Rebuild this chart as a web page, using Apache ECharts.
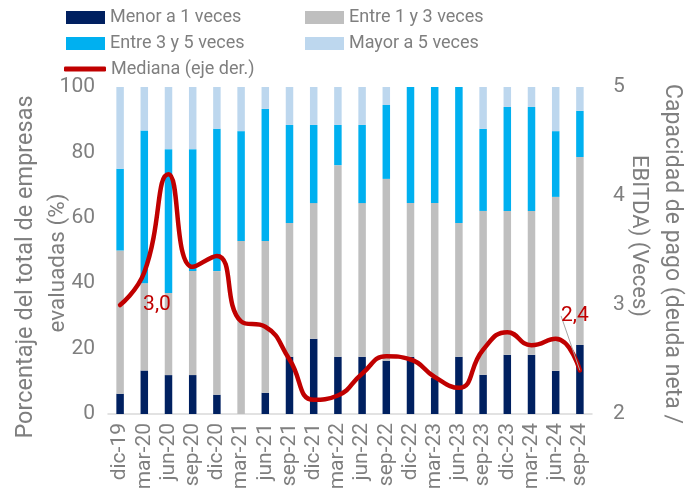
<!DOCTYPE html>
<html>
<head>
<meta charset="utf-8">
<script src="https://cdn.jsdelivr.net/npm/echarts@6/dist/echarts.min.js"></script>
<style>
  html, body { margin: 0; padding: 0; background: #fff; }
  #chart { width: 696px; height: 504px; }
</style>
</head>
<body>
<div id="chart"></div>
<script>
// Quarterly periods
const categories = ['dic-19','mar-20','jun-20','sep-20','dic-20','mar-21','jun-21','sep-21','dic-21','mar-22',
                    'jun-22','sep-22','dic-22','mar-23','jun-23','sep-23','dic-23','mar-24','jun-24','sep-24'];

// Share of evaluated companies (%) by debt coverage bucket
const menorA1 = [6.2,13.3,11.9,11.9,5.9,0,6.5,17.5,23.0,17.5,17.5,16.3,17.5,11.0,17.5,12.0,18.1,18.1,13.2,21.1];
const entre1y3 = [43.8,26.7,25.1,31.8,37.8,52.9,46.4,40.9,41.5,58.6,47.0,55.6,47.0,53.5,40.9,50.1,44.0,44.0,53.2,57.5];
const entre3y5 = [25.0,46.7,44.0,37.3,43.5,33.6,40.4,30.0,23.9,12.3,23.9,22.6,35.5,35.5,41.6,25.1,31.8,31.8,20.1,14.1];
const mayorA5 = [25.0,13.3,19.0,19.0,12.8,13.5,6.7,11.6,11.6,11.6,11.6,5.5,0,0,0,12.8,6.1,6.1,13.5,7.3];

// Median net debt / EBITDA (times), right axis
const mediana = [3.0,3.3,4.2,3.35,3.45,2.85,2.8,2.5,2.13,2.17,2.37,2.53,2.5,2.34,2.24,2.59,2.75,2.63,2.69,2.4];

// Axis ranges
const leftMin = 0, leftMax = 100, leftStep = 20;
const rightMin = 2, rightMax = 5, rightStep = 1;

// Axis titles, one entry per line
const leftTitle = ['Porcentaje del total de empresas', 'evaluadas (%)'];
const rightTitle = ['Capacidad de pago (deuda neta /', 'EBITDA) (Veces)'];

const FONT = 'Roboto';
const GREY_TEXT = '#7f7f7f';

const chart = echarts.init(document.getElementById('chart'), null, { renderer: 'canvas' });

const barSeries = (name, data, color) => ({
  name, type: 'bar', stack: 'total', data,
  barWidth: 7.5,
  itemStyle: { color },
  emphasis: { disabled: true }
});

const lastIdx = mediana.length - 1;
const lineData = mediana.map((v, i) => {
  if (i === 0) {
    return { value: v, label: { show: true, position: 'right', distance: 23, offset: [0, 8] } };
  }
  if (i === lastIdx) {
    return { value: v, label: { show: true, position: 'top', distance: 4 },
             labelLine: { show: true, lineStyle: { color: '#a6a6a6', width: 1 } } };
  }
  return v;
});

const legendText = { color: GREY_TEXT, fontFamily: FONT, fontSize: 18, lineHeight: 23 };

const titleText = (text, x, y, rotation, size) => ({
  type: 'text', x, y, rotation, silent: true,
  style: { text, fill: GREY_TEXT, font: size + 'px ' + FONT, align: 'center', verticalAlign: 'middle' }
});

chart.setOption({
  animation: false,
  backgroundColor: '#ffffff',
  textStyle: { fontFamily: FONT },
  grid: { left: 108, right: 104, top: 87, bottom: 90, containLabel: false, outerBoundsMode: 'none' },
  legend: [
    { data: ['Menor a 1 veces', 'Entre 3 y 5 veces'], orient: 'vertical', left: 66, top: 6,
      padding: 0, itemGap: 3, itemWidth: 39, itemHeight: 13, icon: 'rect', textStyle: legendText,
      selectedMode: false },
    { data: ['Entre 1 y 3 veces', 'Mayor a 5 veces'], orient: 'vertical', left: 305, top: 6,
      padding: 0, itemGap: 3, itemWidth: 39, itemHeight: 13, icon: 'rect', textStyle: legendText,
      selectedMode: false },
    { data: ['Mediana (eje der.)'], orient: 'vertical', left: 64, top: 57.5,
      padding: 0, itemWidth: 42, itemHeight: 5, icon: 'roundRect', textStyle: legendText,
      selectedMode: false }
  ],
  graphic: [
    titleText(leftTitle[0], 26, 267, Math.PI / 2, 23.5),
    titleText(leftTitle[1], 58, 263, Math.PI / 2, 22.5),
    titleText(rightTitle[0], 672, 254, -Math.PI / 2, 23),
    titleText(rightTitle[1], 638, 236, -Math.PI / 2, 22)
  ],
  xAxis: {
    type: 'category', data: categories, boundaryGap: true,
    axisTick: { show: false },
    axisLine: { show: true, lineStyle: { color: '#d9d9d9', width: 1.5 } },
    axisLabel: { rotate: 90, interval: 0, margin: 9, color: GREY_TEXT, fontSize: 21, fontFamily: FONT }
  },
  yAxis: [
    {
      type: 'value', min: leftMin, max: leftMax, interval: leftStep, position: 'left',
      axisLine: { show: false }, axisTick: { show: false }, splitLine: { show: false },
      axisLabel: { margin: 13, color: GREY_TEXT, fontSize: 21, fontFamily: FONT }
    },
    {
      type: 'value', min: rightMin, max: rightMax, interval: rightStep, position: 'right',
      axisLine: { show: false }, axisTick: { show: false }, splitLine: { show: false },
      axisLabel: { margin: 21, color: GREY_TEXT, fontSize: 21, fontFamily: FONT }
    }
  ],
  series: [
    barSeries('Menor a 1 veces', menorA1, '#002060'),
    barSeries('Entre 1 y 3 veces', entre1y3, '#bfbfbf'),
    barSeries('Entre 3 y 5 veces', entre3y5, '#00b0f0'),
    barSeries('Mayor a 5 veces', mayorA5, '#bdd7ee'),
    {
      name: 'Mediana (eje der.)', type: 'line', yAxisIndex: 1, data: lineData,
      smooth: 0.5, symbol: 'circle', symbolSize: 0, showSymbol: true,
      itemStyle: { color: '#c00000' },
      lineStyle: { color: '#c00000', width: 4.5, cap: 'round', join: 'round' },
      label: {
        show: false, color: '#c00000', fontSize: 21, fontFamily: FONT,
        formatter: p => p.value.toFixed(1).replace('.', ',')
      },
      labelLayout: p => (p.dataIndex === lastIdx ? { dx: -5, dy: -40 } : {}),
      emphasis: { disabled: true },
      z: 5
    }
  ]
});
</script>
</body>
</html>
